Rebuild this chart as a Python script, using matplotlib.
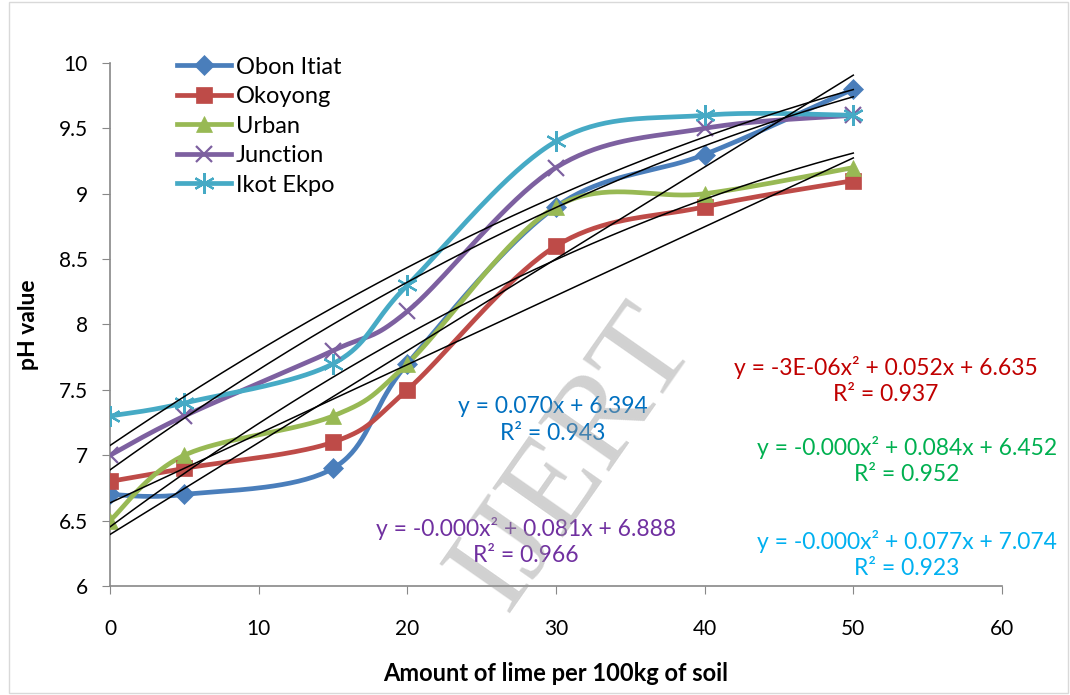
import matplotlib
matplotlib.use("Agg")
import matplotlib.pyplot as plt
import numpy as np
from matplotlib.patches import Rectangle

# lime dose (kg per 100 kg soil) and measured pH for each site
lime = [0, 5, 15, 20, 30, 40, 50]
obon_itiat = [6.7, 6.7, 6.9, 7.7, 8.9, 9.3, 9.8]
okoyong = [6.8, 6.9, 7.1, 7.5, 8.6, 8.9, 9.1]
urban = [6.5, 7.0, 7.3, 7.7, 8.9, 9.0, 9.2]
junction = [7.0, 7.3, 7.8, 8.1, 9.2, 9.5, 9.6]
ikot_ekpo = [7.3, 7.4, 7.7, 8.3, 9.4, 9.6, 9.6]

site_names = ["Obon Itiat", "Okoyong", "Urban", "Junction", "Ikot Ekpo"]
trend_degree = [1, 2, 2, 2, 2]
trend_equations = [
    ("y = 0.070x + 6.394", "R² = 0.943"),
    ("y = -3E-06x² + 0.052x + 6.635", "R² = 0.937"),
    ("y = -0.000x² + 0.084x + 6.452", "R² = 0.952"),
    ("y = -0.000x² + 0.081x + 6.888", "R² = 0.966"),
    ("y = -0.000x² + 0.077x + 7.074", "R² = 0.923"),
]

plt.rcParams["font.family"] = ["Lato", "DejaVu Sans"]


def smooth_curve(x, y, n=40):
    """Bezier smoothing through every point, like a spreadsheet smoothed line."""
    pts = np.column_stack([x, y]).astype(float)
    ext = np.vstack([pts[0], pts, pts[-1]])
    out = []
    t = np.linspace(0, 1, n)[:, None]
    for i in range(1, len(ext) - 2):
        p0, p1, p2, p3 = ext[i - 1], ext[i], ext[i + 1], ext[i + 2]
        c1 = p1 + (p2 - p0) / 6
        c2 = p2 - (p3 - p1) / 6
        seg = ((1 - t) ** 3) * p1 + 3 * ((1 - t) ** 2) * t * c1 + 3 * (1 - t) * t ** 2 * c2 + t ** 3 * p2
        out.append(seg)
    seg = np.vstack(out)
    return seg[:, 0], seg[:, 1]


fig = plt.figure(figsize=(10.7, 6.95), dpi=100)
ax = fig.add_axes([0.1028, 0.1568, 0.8336, 0.7526])

series = [obon_itiat, okoyong, urban, junction, ikot_ekpo]
colors = ["#4A7EBB", "#BE4B48", "#98B954", "#7D60A0", "#46AAC5"]
markers = ["D", "s", "^", "x", (6, 2, 0)]
marker_sizes = [10, 12, 12, 12, 15]
label_colors = ["#0070C0", "#C00000", "#00B050", "#7030A0", "#00B0F0"]
label_pos = [(29.8, 7.27), (52.2, 7.57), (53.6, 6.96), (28.0, 6.34), (53.6, 6.24)]

for vals, name, col, mk, ms in zip(series, site_names, colors, markers, marker_sizes):
    sx, sy = smooth_curve(lime, vals)
    ax.plot(sx, sy, color=col, lw=3.4, solid_capstyle="round", zorder=2)
    mew = 1.6 if mk in ("x", (6, 2, 0)) else 0.5
    ax.plot(lime, vals, linestyle="none", marker=mk, color=col, ms=ms,
            mec=col, mew=mew, zorder=3)
    # legend handle combines line and marker
    ax.plot([], [], color=col, lw=3.4, marker=mk, ms=ms, mew=mew, label=name)

# fitted trendlines
xfit = np.linspace(0, 50, 200)
for vals, deg in zip(series, trend_degree):
    coef = np.polyfit(lime, vals, deg)
    ax.plot(xfit, np.polyval(coef, xfit), color="black", lw=1.1, zorder=4)

for (eq, r2), col, (tx, ty) in zip(trend_equations, label_colors, label_pos):
    ax.text(tx, ty, eq + "\n" + r2, color=col, fontsize=16.5, ha="center",
            va="center", linespacing=1.3, zorder=5)

ax.set_xlim(0, 60)
ax.set_ylim(6, 10)
ax.set_xticks(np.arange(0, 61, 10))
ax.set_yticks(np.arange(6, 10.01, 0.5))
ax.set_yticklabels(["6", "6.5", "7", "7.5", "8", "8.5", "9", "9.5", "10"])
ax.tick_params(axis="both", labelsize=15, length=6, color="#888888", direction="out")
ax.tick_params(axis="x", pad=18)
ax.tick_params(axis="y", pad=10)
for side in ("top", "right"):
    ax.spines[side].set_visible(False)
for side in ("left", "bottom"):
    ax.spines[side].set_color("#888888")
    ax.spines[side].set_linewidth(1.2)

ax.set_xlabel("Amount of lime per 100kg of soil", fontsize=17, fontweight="bold", labelpad=16)
ax.set_ylabel("pH value", fontsize=16.5, fontweight="bold", labelpad=14)

ax.legend(loc="upper left", bbox_to_anchor=(0.064, 1.03), frameon=False, fontsize=17,
          handlelength=2.3, handletextpad=0.2, labelspacing=0.36, borderaxespad=0)

# publisher watermark
fig.text(0.537, 0.34, "IJERT", fontsize=94, family="Liberation Serif", color="#9a9a9a",
         alpha=0.45, rotation=55, ha="center", va="center", zorder=10)

# outer chart border
fig.patches.append(Rectangle((0.008, 0.003), 0.99, 0.994, transform=fig.transFigure,
                             fill=False, edgecolor="#d9d9d9", lw=1.0))

fig.savefig("out.png", dpi=100)
